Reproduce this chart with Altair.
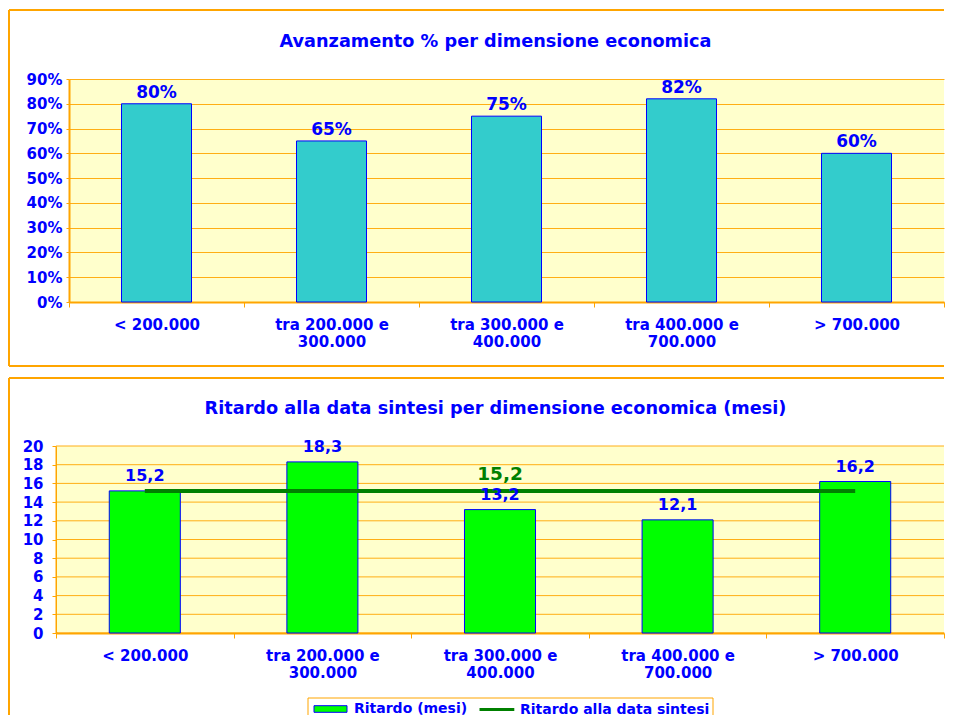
import altair as alt
import pandas as pd

# ---- data ----
categories = ["< 200.000", "tra 200.000 e 300.000", "tra 300.000 e 400.000",
              "tra 400.000 e 700.000", "> 700.000"]
avanzamento = [0.80, 0.65, 0.75, 0.82, 0.60]
ritardo = [15.2, 18.3, 13.2, 12.1, 16.2]
ritardo_sintesi = [15.2, 15.2, 15.2, 15.2, 15.2]
y1_ticks = [0, 0.1, 0.2, 0.3, 0.4, 0.5, 0.6, 0.7, 0.8, 0.9]
y2_ticks = [0, 2, 4, 6, 8, 10, 12, 14, 16, 18, 20]
series_names = ["Ritardo (mesi)", "Ritardo alla data sintesi"]
title1 = "Avanzamento % per dimensione economica"
title2 = "Ritardo alla data sintesi per dimensione economica (mesi)"

# ---- styles ----
BLUE = "#0000FF"
ORANGE = "#FFA500"
GREEN = "#00FF00"
DKGREEN = "#008000"
FONT = "DejaVu Sans"
PLOT_BG = "#FFFFCC"

df1 = pd.DataFrame({"cat": categories, "val": avanzamento})
df2 = pd.DataFrame({"cat": categories, "rit": ritardo, "sint": ritardo_sintesi})
grid2 = pd.DataFrame({"t": y2_ticks})
one = pd.DataFrame({"k": [0]})

label_expr = ("indexof(datum.label, ' e ') > 0 ? "
              "[substring(datum.label, 0, indexof(datum.label, ' e ') + 2), "
              "substring(datum.label, indexof(datum.label, ' e ') + 3)] : datum.label")

W = 875          # plot width of both panels (shared left edge in the concat)
SHIFT = 13       # the lower plot starts further left than the upper one


def x_enc(x0=0):
    return alt.X("cat:N", sort=categories,
                 scale=alt.Scale(domain=categories, paddingInner=0, paddingOuter=0,
                                 range=[x0, W]),
                 axis=alt.Axis(title=None, labelExpr=label_expr, labelAngle=0,
                               tickBand="extent", tickSize=5, labelPadding=10,
                               labelLineHeight=17, grid=False, domainWidth=2,
                               labelFontSize=15))


def hline(x1, x2, y, w=2):
    return alt.Chart(one).mark_rule(color=ORANGE, strokeWidth=w).encode(
        x=alt.value(x1), x2=alt.value(x2), y=alt.value(y))


def vline(x, y1, y2, w=2):
    return alt.Chart(one).mark_rule(color=ORANGE, strokeWidth=w).encode(
        x=alt.value(x), y=alt.value(y1), y2=alt.value(y2))


title_common = dict(color=BLUE, font=FONT, fontSize=17.7, fontWeight="bold",
                    anchor="middle", frame="group", dx=-11)
legend_common = dict(title=None, orient="none", direction="horizontal",
                     labelColor=BLUE, labelFont=FONT, labelFontSize=14,
                     labelFontWeight="bold", padding=0, labelLimit=400,
                     symbolSize=144)

# ---------------- top chart ----------------
H1 = 223
base1 = alt.Chart(df1)
y1 = alt.Y("val:Q", scale=alt.Scale(domain=[0, 0.9], nice=False),
           axis=alt.Axis(values=y1_ticks, format=".0%", title=None, tickSize=3,
                         labelPadding=4, domainWidth=2, labelOverlap=False,
                         labelFontSize=15))
bars1 = base1.mark_bar(fill="#33CCCC", stroke=BLUE, strokeWidth=1,
                       width=alt.RelativeBandSize(0.4)).encode(x=x_enc(), y=y1)
text1 = base1.mark_text(color=BLUE, font=FONT, fontSize=17, fontWeight="bold",
                        baseline="middle", dy=-11).encode(
    x=x_enc(), y=y1, text=alt.Text("val:Q", format=".0%"))
top = alt.layer(
    hline(-60, W, -69), vline(-60, -69, 287), hline(-60, W, 287),
    bars1, text1
).properties(width=W, height=H1,
             title=alt.TitleParams(text=title1, offset=-42, **title_common))

# ---------------- bottom chart ----------------
H2 = 187
base2 = alt.Chart(df2).transform_calculate(
    lbl="replace(format(datum.rit, '.1f'), '.', ',')",
    lbl2="replace(format(datum.sint, '.1f'), '.', ',')")
y_scale2 = alt.Scale(domain=[0, 20], nice=False)
y_axis2 = alt.Axis(values=y2_ticks, title=None, tickSize=4, labelPadding=9,
                   domainWidth=2, labelOverlap=False, labelFontSize=15,
                   offset=SHIFT, grid=False)
y2 = alt.Y("rit:Q", scale=y_scale2, axis=y_axis2)
y2s = alt.Y("sint:Q", scale=y_scale2, axis=y_axis2)

strip = alt.Chart(one).mark_rect(fill=PLOT_BG).encode(
    x=alt.value(-SHIFT + 1), x2=alt.value(0), y=alt.value(0), y2=alt.value(H2 - 1))
grid_rules = alt.Chart(grid2).mark_rule(color=ORANGE, strokeWidth=1, opacity=0.9).encode(
    y=alt.Y("t:Q", scale=y_scale2, axis=y_axis2),
    x=alt.value(-SHIFT), x2=alt.value(W))

LEG_Y = 256
BOT = 269
LTOP = 252
LB0, LB1 = 252 - SHIFT, 657 - SHIFT
legend_bg = alt.Chart(one).mark_rect(fill="#FFFFFF").encode(
    x=alt.value(LB0), x2=alt.value(LB1), y=alt.value(LTOP), y2=alt.value(BOT))

bars2 = base2.transform_calculate(serie=f"'{series_names[0]}'").mark_bar(
    stroke=BLUE, strokeWidth=1, width=alt.RelativeBandSize(0.4)).encode(
    x=x_enc(-SHIFT), y=y2,
    fill=alt.Fill("serie:N", scale=alt.Scale(domain=[series_names[0]], range=[GREEN]),
                  legend=alt.Legend(legendX=267.5 - SHIFT, legendY=LEG_Y, labelOffset=16.5,
                                    symbolType="M-2.75,-0.55H2.75V0.55H-2.75Z",
                                    symbolStrokeColor=BLUE, symbolStrokeWidth=1,
                                    **legend_common)))
line2 = base2.transform_calculate(serie=f"'{series_names[1]}'").mark_line(
    strokeWidth=4).encode(
    x=x_enc(-SHIFT), y=y2s,
    stroke=alt.Stroke("serie:N", scale=alt.Scale(domain=[series_names[1]], range=[DKGREEN]),
                      legend=alt.Legend(legendX=433.4 - SHIFT, legendY=LEG_Y, labelOffset=15.6,
                                        symbolType="M-2.9,0H2.9", symbolStrokeWidth=3,
                                        **legend_common)))
text2 = base2.mark_text(color=BLUE, font=FONT, fontSize=16, fontWeight="bold",
                        baseline="middle", dy=-15).encode(
    x=x_enc(-SHIFT), y=y2, text="lbl:N")
text_line = base2.transform_filter(alt.datum.cat == categories[2]).mark_text(
    color=DKGREEN, font=FONT, fontSize=18.5, fontWeight="bold",
    baseline="middle", dy=-17).encode(
    x=x_enc(-SHIFT), y=y2s, text="lbl2:N")
bottom = alt.layer(
    hline(-60, W, -68), vline(-60, -68, BOT),
    legend_bg, hline(LB0, LB1, LTOP, 1), vline(LB0, LTOP, BOT, 1), vline(LB1, LTOP, BOT, 1),
    strip, grid_rules, bars2, line2, text2, text_line
).properties(width=W, height=H2,
             title=alt.TitleParams(text=title2, offset=-40.5, **title_common)
).resolve_legend(fill="independent", stroke="independent")

chart = alt.vconcat(top, bottom, spacing=10).properties(
    padding={"left": 0, "top": 1, "right": 0, "bottom": 0}
).configure_view(fill=PLOT_BG, stroke=None).configure_axis(
    labelColor=BLUE, labelFont=FONT, labelFontWeight="bold",
    domainColor=ORANGE, tickColor=ORANGE, gridColor=ORANGE, gridWidth=1,
    gridOpacity=0.9
)

chart.save("out.html", embed_options={"renderer": "svg", "actions": False})
